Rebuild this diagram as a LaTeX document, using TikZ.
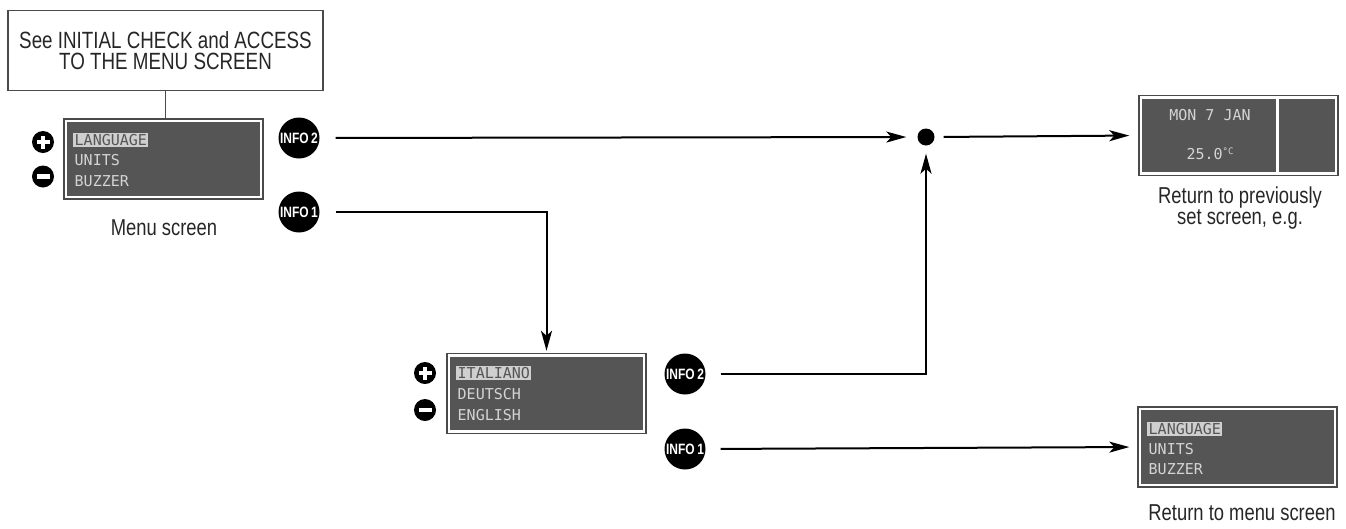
\documentclass[tikz,border=0pt]{standalone}
\usepackage{fontspec}
\setmainfont{Liberation Sans}[FakeStretch=0.8]
\newfontfamily\scr{DejaVu Sans Mono}
\usetikzlibrary{arrows.meta}
\definecolor{scrbg}{HTML}{555555}
\definecolor{scrfg}{HTML}{D4D4D4}
\definecolor{hlbg}{HTML}{CFCFCF}
\definecolor{frcol}{HTML}{4A4A4A}
\begin{document}
\begin{tikzpicture}[x=1pt,y=-1pt,
  lbl/.style={font=\fontsize{23}{21.5}\selectfont, align=center, text=black!85, inner sep=0},
  topbox/.style={draw=frcol, line width=1.3pt, minimum width=315pt, minimum height=80pt, font=\fontsize{23.5}{21.5}\selectfont, align=center, text=black!85},
  screen/.style={draw=frcol, line width=1.4pt, fill=white, minimum width=199pt, minimum height=80pt, inner sep=0},
  sline/.style={anchor=west, font=\scr\fontsize{15}{15}\selectfont, text=scrfg, inner sep=1.5pt},
  shl/.style={sline, fill=hlbg, text=scrbg},
  info/.style={circle, fill=black, minimum size=41pt, inner sep=0, text=white, font=\bfseries\fontsize{15}{15}\selectfont},
  dotn/.style={circle, fill=black, minimum size=17pt, inner sep=0},
  arr/.style={line width=2pt, -{Stealth[length=20pt,width=11pt,inset=5pt]}},
  plusb/.pic={\fill (0,0) circle (11pt); \fill[white] (-6.5,-2) rectangle (6.5,2); \fill[white] (-2,-6.5) rectangle (2,6.5);},
  minusb/.pic={\fill (0,0) circle (11pt); \fill[white] (-6.5,-2.2) rectangle (6.5,2.2);},
]
\useasboundingbox (0,0) rectangle (1346,528);

% top box
\node[topbox] (top) at (165.5,50.5) {See INITIAL CHECK and ACCESS\\TO THE MENU SCREEN};

% screens
\node[screen] (m1) at (163.5,159) {};
\node[screen] (m2) at (546.5,393.5) {};
\node[screen] (m3) at (1238.5,135.5) {};
\node[screen] (m4) at (1237.5,447) {};
\foreach \m in {m1,m2,m3,m4}{
  \fill[scrbg] ([xshift=4pt,yshift=-4pt]\m.north west) rectangle ([xshift=-4pt,yshift=4pt]\m.south east);
}
\draw[white, line width=3pt] (1277,99) -- (1277,172);

% screen texts
\node[shl]   (t11) at (73,140) {LANGUAGE};
\node[sline] (t12) at (73,160) {UNITS};
\node[sline] (t13) at (73,181) {BUZZER};

\node[shl]   (t21) at (456,373) {ITALIANO};
\node[sline] (t22) at (456,394) {DEUTSCH};
\node[sline] (t23) at (456,415) {ENGLISH};

\node[sline, anchor=center] (t31) at (1210,115) {MON 7 JAN};
\node[sline, anchor=center] (t32) at (1210,154) {25.0\raisebox{0.55ex}{\fontsize{9}{9}\selectfont °C}};

\node[shl]   (t41) at (1147,429) {LANGUAGE};
\node[sline] (t42) at (1147,449) {UNITS};
\node[sline] (t43) at (1147,469) {BUZZER};

% plus / minus buttons
\pic at (43,142) {plusb};
\pic at (43,176.5) {minusb};
\pic at (425,373) {plusb};
\pic at (425,410) {minusb};

% INFO buttons
\node[info] (i2a) at (299,138) {INFO\,2};
\node[info] (i1a) at (299,212) {INFO\,1};
\node[info] (i2b) at (685,374) {INFO\,2};
\node[info] (i1b) at (685,449) {INFO\,1};

% junction dot
\node[dotn] (dot) at (926,137) {};

% captions
\node[lbl] (c1) at (164,228) {Menu screen};
\node[lbl] (c3) at (1240,208) {Return to previously\\set screen, e.g.};
\node[lbl] (c4) at (1242,513) {Return to menu screen};

% connectors
\draw[line width=1.6pt, draw=frcol] (top.south) -- (top.south |- m1.north);
\draw[arr, shorten <=16pt, shorten >=11pt] (i2a.east) -- (dot.west);
\draw[arr, shorten <=9pt, shorten >=9pt] (dot.east) -- (m3.west);
\draw[arr, shorten <=16pt, shorten >=2pt] (i1a.east) -| (m2.north);
\draw[arr, shorten <=15pt, shorten >=8pt] (i2b.east) -| (dot.south);
\draw[arr, shorten <=15pt, shorten >=8pt] (i1b.east) -- (m4.west);
\end{tikzpicture}
\end{document}
